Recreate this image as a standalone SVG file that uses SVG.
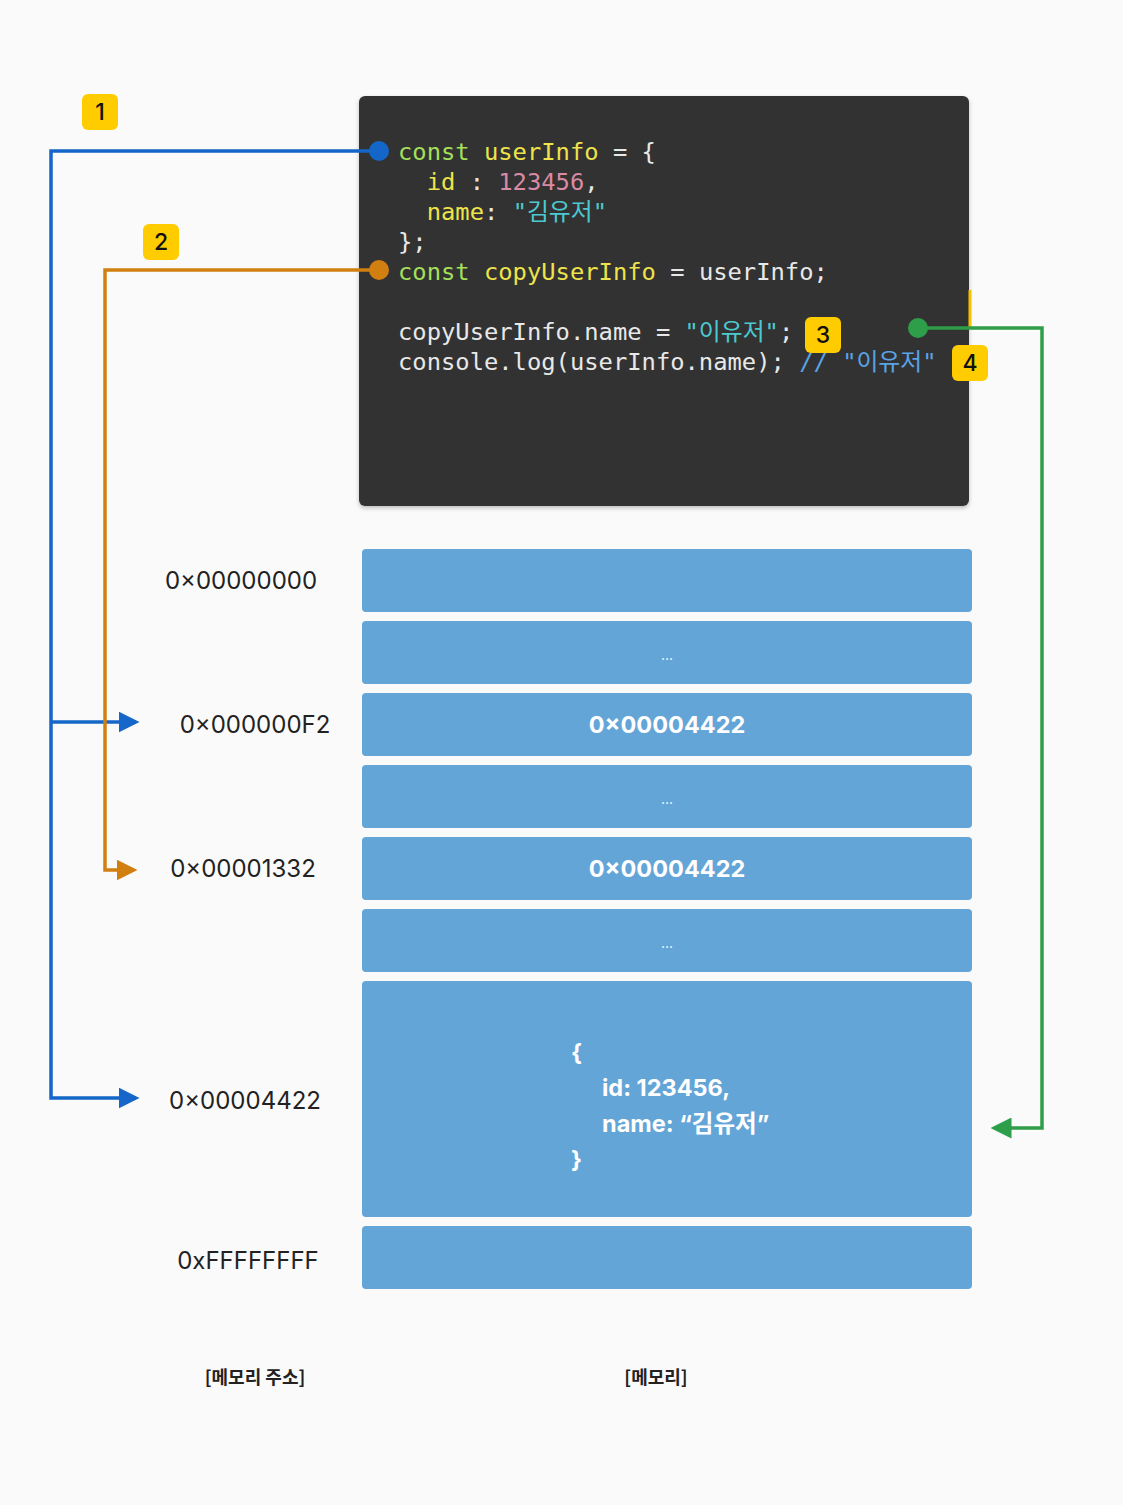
<svg xmlns="http://www.w3.org/2000/svg" width="1123" height="1505" viewBox="0 0 1123 1505">
<defs>
<style>
.code{font-family:"DejaVu Sans Mono","Liberation Mono","Noto Sans CJK KR",monospace;font-size:23.8px;fill:#e8e8e8;white-space:pre}
.kw{fill:#a6e05a}.id{fill:#eee34a}.num{fill:#d98aa4}.str{fill:#4cc9d0}.cm{fill:#5aa2e6}
.addr{font-family:Inter,"Noto Sans","Noto Sans CJK KR",sans-serif;font-size:24px;fill:#222}
.mem{fill:#64a5d8}
.mt{font-family:Inter,"Noto Sans","Noto Sans CJK KR",sans-serif;font-size:23.5px;font-weight:bold;fill:#fff}
.dots{font-family:Inter,"Noto Sans",sans-serif;font-size:14px;fill:#fff}
.badge{fill:#ffcc00}
.bt{font-family:Inter,"Noto Sans",sans-serif;font-size:23px;font-weight:500;fill:#111;text-anchor:middle}
.cap{font-family:"Noto Sans CJK KR",sans-serif;font-size:18px;font-weight:bold;fill:#222;text-anchor:middle}
.ln{fill:none;stroke-width:3.5}
</style>
<marker id="ab" markerWidth="6" markerHeight="6" refX="5" refY="3" orient="auto" markerUnits="strokeWidth"><path d="M0,0 L6,3 L0,6 Z" fill="#1466c8"/></marker>
<marker id="ao" markerWidth="6" markerHeight="6" refX="5" refY="3" orient="auto" markerUnits="strokeWidth"><path d="M0,0 L6,3 L0,6 Z" fill="#d07f10"/></marker>
<marker id="ag" markerWidth="6" markerHeight="6" refX="5" refY="3" orient="auto" markerUnits="strokeWidth"><path d="M0,0 L6,3 L0,6 Z" fill="#2e9e4a"/></marker>
<filter id="sh" x="-5%" y="-5%" width="110%" height="110%"><feDropShadow dx="0" dy="2" stdDeviation="2" flood-opacity="0.25"/></filter>
</defs>
<rect width="1123" height="1505" fill="#fafafa"/>

<g id="code-box">
<rect x="359" y="96" width="610" height="410" rx="6" fill="#333333" filter="url(#sh)"/>
<text class="code" xml:space="preserve" x="398" y="160"><tspan class="kw">const</tspan> <tspan class="id">userInfo</tspan> = {</text>
<text class="code" xml:space="preserve" x="398" y="190">  <tspan class="id">id</tspan> : <tspan class="num">123456</tspan>,</text>
<text class="code" xml:space="preserve" x="398" y="220">  <tspan class="id">name</tspan>: <tspan class="str">"김유저"</tspan></text>
<text class="code" xml:space="preserve" x="398" y="250">};</text>
<text class="code" xml:space="preserve" x="398" y="280"><tspan class="kw">const</tspan> <tspan class="id">copyUserInfo</tspan> = userInfo;</text>
<text class="code" xml:space="preserve" x="398" y="340">copyUserInfo.name = <tspan class="str">"이유저"</tspan>;</text>
<text class="code" xml:space="preserve" x="398" y="370">console.log(userInfo.name); <tspan class="cm">// "이유저"</tspan></text>
</g>

<g id="memory">
<rect class="mem" x="362" y="549" width="610" height="63" rx="4"/>
<rect class="mem" x="362" y="621" width="610" height="63" rx="4"/>
<text class="dots" x="667" y="660" text-anchor="middle">...</text>
<rect class="mem" x="362" y="693" width="610" height="63" rx="4"/>
<text class="mt" x="667" y="733" text-anchor="middle">0×00004422</text>
<rect class="mem" x="362" y="765" width="610" height="63" rx="4"/>
<text class="dots" x="667" y="804" text-anchor="middle">...</text>
<rect class="mem" x="362" y="837" width="610" height="63" rx="4"/>
<text class="mt" x="667" y="877" text-anchor="middle">0×00004422</text>
<rect class="mem" x="362" y="909" width="610" height="63" rx="4"/>
<text class="dots" x="667" y="948" text-anchor="middle">...</text>
<rect class="mem" x="362" y="981" width="610" height="236" rx="4"/>
<text class="mt" x="571" y="1061" font-size="22">{</text>
<text class="mt" x="602" y="1096" font-size="22">id: 123456,</text>
<text class="mt" x="602" y="1132" font-size="22">name: “김유저”</text>
<text class="mt" x="571" y="1168" font-size="22">}</text>
<rect class="mem" x="362" y="1226" width="610" height="63" rx="4"/>
</g>

<g id="addresses">
<text class="addr" x="241" y="589" text-anchor="middle">0×00000000</text>
<text class="addr" x="255" y="733" text-anchor="middle">0×000000F2</text>
<text class="addr" x="243" y="877" text-anchor="middle">0×00001332</text>
<text class="addr" x="245" y="1109" text-anchor="middle">0×00004422</text>
<text class="addr" x="248" y="1269" text-anchor="middle">0xFFFFFFFF</text>
</g>

<g id="captions">
<text class="cap" x="255" y="1384">[메모리 주소]</text>
<text class="cap" x="656" y="1384">[메모리]</text>
</g>

<g id="connectors">
<line x1="970" y1="290" x2="970" y2="328" stroke="#f5c400" stroke-width="3"/>
<path class="ln" stroke="#1466c8" d="M379,151 H51 V1098 H136" marker-end="url(#ab)"/>
<path class="ln" stroke="#1466c8" d="M51,722 H136" marker-end="url(#ab)"/>
<circle cx="379" cy="151" r="10" fill="#1466c8"/>
<path class="ln" stroke="#d07f10" d="M379,270 H105 V870 H134" marker-end="url(#ao)"/>
<circle cx="379" cy="270" r="10" fill="#d07f10"/>
<path class="ln" stroke="#2e9e4a" d="M918,328 H1042 V1128 H994" marker-end="url(#ag)"/>
<circle cx="918" cy="328" r="10" fill="#2e9e4a"/>
</g>

<g id="badge-1"><rect class="badge" x="82" y="94" width="36" height="36" rx="6"/><text class="bt" x="100" y="120">1</text></g>
<g id="badge-2"><rect class="badge" x="143" y="224" width="36" height="36" rx="6"/><text class="bt" x="161" y="250">2</text></g>
<g id="badge-3"><rect class="badge" x="805" y="317" width="36" height="36" rx="6"/><text class="bt" x="823" y="343">3</text></g>
<g id="badge-4"><rect class="badge" x="952" y="345" width="36" height="36" rx="6"/><text class="bt" x="970" y="371">4</text></g>
</svg>
